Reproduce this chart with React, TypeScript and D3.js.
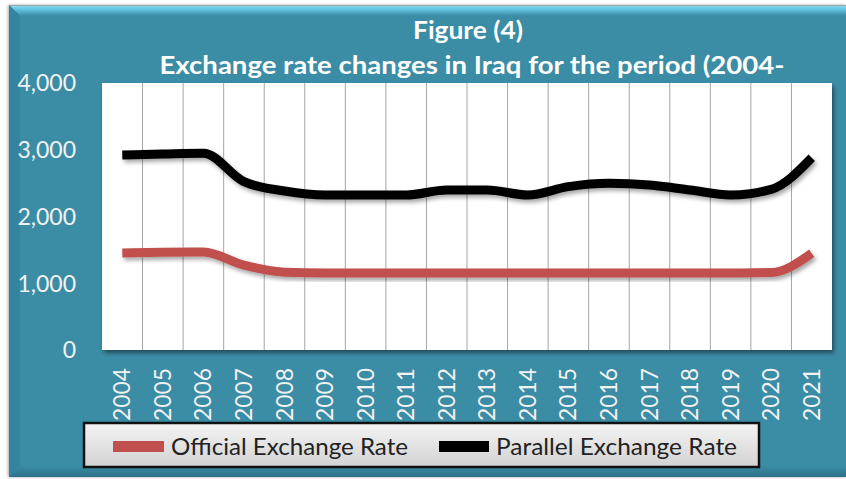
import React from "react";
import * as d3 from "d3";

const years = ["2004","2005","2006","2007","2008","2009","2010","2011","2012","2013","2014","2015","2016","2017","2018","2019","2020","2021"];
const officialRate = [1453,1463,1467,1270,1165,1155,1155,1155,1155,1155,1155,1155,1155,1155,1155,1155,1160,1450];
const parallelRate = [2921,2935,2946,2522,2382,2322,2322,2322,2397,2397,2322,2447,2497,2472,2397,2322,2407,2880];
const yTicks = [0,1000,2000,3000,4000];
const titleLines = ["Figure (4)","Exchange rate changes in Iraq for the period (2004-"];
const seriesNames = ["Official Exchange Rate","Parallel Exchange Rate"];
const seriesColors = ["#c0504d","#000000"];

const W = 846, H = 479;
const FONT = "Lato, 'Open Sans', sans-serif";
const BG = "#3a8ca5";

export default function App() {
  const x = d3.scaleBand<string>().domain(years).range([102, 832]).padding(0);
  const y = d3.scaleLinear().domain([0, 4000]).range([350, 83]);
  const bw = x.bandwidth();
  const cx = (yr: string) => (x(yr) as number) + bw / 2;
  const line = d3.line<number>()
    .x((_, i) => cx(years[i]))
    .y((v) => y(v))
    .curve(d3.curveMonotoneX);
  const fmt = d3.format(",");
  const series = [officialRate, parallelRate];

  return (
    <svg width={W} height={H} style={{ position: "absolute", left: 0, top: 0 }} xmlns="http://www.w3.org/2000/svg">
      <defs>
        <linearGradient id="topBevel" x1="0" y1="0" x2="0" y2="1">
          <stop offset="0" stopColor="#9ad9ee" />
          <stop offset="0.3" stopColor="#6ccbe8" />
          <stop offset="1" stopColor={BG} />
        </linearGradient>
        <linearGradient id="botBevel" x1="0" y1="0" x2="0" y2="1">
          <stop offset="0" stopColor={BG} />
          <stop offset="1" stopColor="#2d7189" />
        </linearGradient>
        <linearGradient id="legendFill" x1="0" y1="0" x2="0" y2="1">
          <stop offset="0" stopColor="#f4f4f4" />
          <stop offset="1" stopColor="#d2d2d2" />
        </linearGradient>
        <filter id="plotShadow" x="-5%" y="-5%" width="110%" height="115%">
          <feDropShadow dx="2" dy="3" stdDeviation="2" floodColor="#000" floodOpacity="0.45" />
        </filter>
        <filter id="lineShadow" x="-5%" y="-20%" width="110%" height="160%">
          <feDropShadow dx="2" dy="3" stdDeviation="2" floodColor="#000" floodOpacity="0.35" />
        </filter>
        <filter id="frameShadow" x="-2%" y="-2%" width="104%" height="104%">
          <feDropShadow dx="-1" dy="0" stdDeviation="1.5" floodColor="#000" floodOpacity="0.35" />
        </filter>
      </defs>

      <rect x={0} y={0} width={W} height={H} fill="#ffffff" />
      {/* frame */}
      <rect x={9} y={5} width={W - 9} height={472} fill={BG} filter="url(#frameShadow)" />
      <polygon points={`9,5 ${W},5 ${W},16 20,16`} fill="url(#topBevel)" />
      <line x1={9} y1={5.5} x2={W} y2={5.5} stroke="#9aa8ad" strokeWidth={1} />
      <polygon points={`9,5 20,16 20,466 9,477`} fill="#3484a0" />
      <polygon points={`9,477 20,466 ${W},466 ${W},477`} fill="url(#botBevel)" />

      {/* title */}
      <text x={468} y={39} textAnchor="middle" fill="#ffffff" fontFamily={FONT} fontWeight="bold" fontSize={24}
        textLength={110} lengthAdjust="spacingAndGlyphs">
        {titleLines[0]}
      </text>
      <text x={472} y={74} textAnchor="middle" fill="#ffffff" fontFamily={FONT} fontWeight="bold" fontSize={24}
        textLength={625} lengthAdjust="spacingAndGlyphs">
        {titleLines[1]}
      </text>

      {/* plot area */}
      <rect x={102} y={83} width={730} height={267} fill="#ffffff" filter="url(#plotShadow)" />
      {years.slice(1).map((yr) => (
        <line key={yr} x1={x(yr) as number} x2={x(yr) as number} y1={83} y2={350} stroke="#a6a6a6" strokeWidth={1} />
      ))}

      {/* y axis labels */}
      {yTicks.map((t) => (
        <text key={t} x={76} y={y(t)} dy="0.36em" textAnchor="end" fill="#f2f2f2" fontFamily={FONT} fontSize={23}>
          {fmt(t)}
        </text>
      ))}

      {/* x axis labels */}
      {years.map((yr) => (
        <text key={yr} transform={`translate(${cx(yr) + 8},${368}) rotate(-90)`} textAnchor="end" fill="#f2f2f2"
          fontFamily={FONT} fontSize={23} textLength={53} lengthAdjust="spacingAndGlyphs">
          {yr}
        </text>
      ))}

      {/* series */}
      {series.map((s, i) => (
        <path key={i} d={line(s) as string} fill="none" stroke={seriesColors[i]} strokeWidth={9}
          strokeLinecap="butt" strokeLinejoin="round" filter="url(#lineShadow)" />
      ))}

      {/* legend */}
      <rect x={84} y={423} width={675} height={44} fill="url(#legendFill)" stroke="#111" strokeWidth={2.5} />
      <rect x={113} y={441} width={51} height={11} fill={seriesColors[0]} />
      <text x={171} y={455} fill="#222" fontFamily={FONT} fontSize={23} textLength={237} lengthAdjust="spacingAndGlyphs">
        {seriesNames[0]}
      </text>
      <rect x={439} y={441} width={50} height={11} fill={seriesColors[1]} />
      <text x={496} y={455} fill="#222" fontFamily={FONT} fontSize={23} textLength={241} lengthAdjust="spacingAndGlyphs">
        {seriesNames[1]}
      </text>
    </svg>
  );
}
